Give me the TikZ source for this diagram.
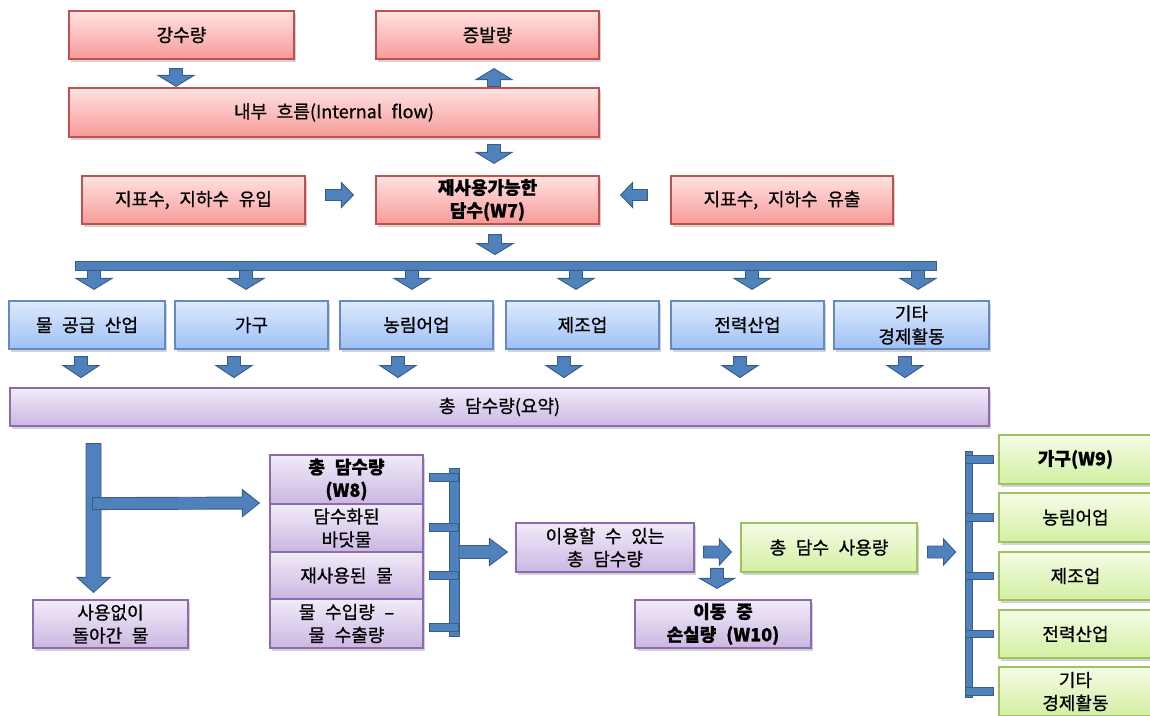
\documentclass[tikz,border=0pt]{standalone}
\usepackage{fontspec}
\setmainfont{Noto Sans CJK KR}[WordSpace=2.4, RawFeature={embolden=0.8}]
\usetikzlibrary{calc,shadows}
\definecolor{redtop}{RGB}{255,226,225}
\definecolor{redbot}{RGB}{247,155,153}
\definecolor{redline}{RGB}{192,80,77}
\definecolor{bluetop}{RGB}{222,234,252}
\definecolor{bluebot}{RGB}{158,192,246}
\definecolor{blueline}{RGB}{100,138,198}
\definecolor{purtop}{RGB}{241,235,249}
\definecolor{purbot}{RGB}{203,183,226}
\definecolor{purline}{RGB}{140,108,174}
\definecolor{grntop}{RGB}{245,252,230}
\definecolor{grnbot}{RGB}{211,239,162}
\definecolor{grnline}{RGB}{158,194,96}
\definecolor{arrowfill}{RGB}{79,129,189}
\definecolor{arrowline}{RGB}{56,93,138}
\tikzset{
  asw/.store in=\asw, ahw/.store in=\ahw, ahl/.store in=\ahl,
  asw=6.5pt, ahw=18pt, ahl=11pt,
  blockarrow/.style={fill=arrowfill, draw=arrowline, line width=0.9pt, line join=miter,
    to path={($(\tikztostart)!\asw!90:(\tikztotarget)$)
      -- ($(\tikztotarget)!\ahl!(\tikztostart)!\asw!90:(\tikztotarget)$)
      -- ($(\tikztotarget)!\ahl!(\tikztostart)!\ahw!90:(\tikztotarget)$)
      -- (\tikztotarget)
      -- ($(\tikztotarget)!\ahl!(\tikztostart)!\ahw!-90:(\tikztotarget)$)
      -- ($(\tikztotarget)!\ahl!(\tikztostart)!\asw!-90:(\tikztotarget)$)
      -- ($(\tikztostart)!\asw!-90:(\tikztotarget)$) -- cycle}},
  vsmall/.style={blockarrow, asw=6.5pt, ahw=18pt, ahl=11pt},
  hsmall/.style={blockarrow, asw=5.5pt, ahw=12.5pt, ahl=12pt},
  pipe/.style={draw=arrowline, line width=1pt, double=arrowfill, double distance=#1, line cap=rect},
  pipe/.default=7pt,
  box/.style={rectangle, draw, line width=1.2pt, inner sep=0pt, align=center,
    font=\fontsize{18}{23}\selectfont,
    drop shadow={shadow xshift=2pt, shadow yshift=-2.5pt, opacity=0.35}},
  redbox/.style={box, draw=redline, top color=redtop, bottom color=redbot},
  bluebox/.style={box, draw=blueline, top color=bluetop, bottom color=bluebot,
    minimum height=48pt},
  purbox/.style={box, draw=purline, top color=purtop, bottom color=purbot},
  grnbox/.style={box, draw=grnline, top color=grntop, bottom color=grnbot},
}
\begin{document}
\begin{tikzpicture}[x=1pt,y=-1pt]
\useasboundingbox (0,0) rectangle (1150,715);
% ---------- top red boxes
\node[redbox, minimum width=225pt, minimum height=48pt] (rain) at (181.5,35) {강수량};
\node[redbox, minimum width=223pt, minimum height=48pt] (evap) at (487.5,35) {증발량};
\node[redbox, minimum width=530pt, minimum height=49pt] (inner) at (334,112.5) {내부 흐름(Internal flow)};
\node[redbox, minimum width=223pt, minimum height=48pt] (inflow) at (193.5,200) {지표수, 지하수 유입};
\node[redbox, minimum width=223pt, minimum height=48pt] (w7) at (487.5,200) {\bfseries 재사용가능한\\\bfseries 담수(W7)};
\node[redbox, minimum width=222pt, minimum height=48pt] (outflow) at (782,200) {지표수, 지하수 유출};
% ---------- blue row
\node[bluebox, minimum width=156pt] (b1) at (87,325) {물 공급 산업};
\node[bluebox, minimum width=153pt] (b2) at (251.5,325) {가구};
\node[bluebox, minimum width=153pt] (b3) at (416.5,325) {농림어업};
\node[bluebox, minimum width=153pt] (b4) at (582.5,325) {제조업};
\node[bluebox, minimum width=153pt] (b5) at (747.5,325) {전력산업};
\node[bluebox, minimum width=155pt] (b6) at (911.5,325) {기타\\경제활동};
% ---------- summary
\node[purbox, minimum width=979pt, minimum height=38pt] (summary) at (499.5,407) {총 담수량(요약)};
% ---------- bottom left
\node[purbox, minimum width=155pt, minimum height=48pt] (ret) at (110.5,624) {사용없이\\돌아간 물};
\node[purbox, minimum width=153pt, minimum height=49pt] (s1) at (346.5,479.5) {\bfseries 총 담수량\\\bfseries (W8)};
\node[purbox, minimum width=153pt, minimum height=48pt] (s2) at (346.5,528) {담수화된\\바닷물};
\node[purbox, minimum width=153pt, minimum height=47pt] (s3) at (346.5,575.5) {재사용된 물};
\node[purbox, minimum width=153pt, minimum height=49pt] (s4) at (346.5,623.5) {물 수입량 –\\물 수출량};
\node[purbox, minimum width=178pt, minimum height=49pt] (avail) at (605,547.5) {이용할 수 있는\\총 담수량};
\node[grnbox, minimum width=176pt, minimum height=49pt] (use) at (829,547.5) {총 담수 사용량};
\node[purbox, minimum width=176pt, minimum height=48pt] (loss) at (723,624) {\bfseries 이동 중\\\bfseries 손실량 (W10)};
% ---------- green list
\node[grnbox, minimum width=153pt, minimum height=49pt] (g1) at (1075.5,459.5) {\bfseries 가구(W9)};
\node[grnbox, minimum width=153pt, minimum height=49pt] (g2) at (1075.5,517.5) {농림어업};
\node[grnbox, minimum width=153pt, minimum height=48pt] (g3) at (1075.5,576) {제조업};
\node[grnbox, minimum width=153pt, minimum height=48pt] (g4) at (1075.5,634) {전력산업};
\node[grnbox, minimum width=153pt, minimum height=49pt] (g5) at (1075.5,691.5) {기타\\경제활동};
% ---------- top arrows
\coordinate (a1s) at ($(rain.south)+(-5.5,9)$);
\coordinate (a1e) at ($(inner.north)+(-158,-1)$);
\coordinate (a2s) at ($(inner.north)+(160,-1)$);
\coordinate (a2e) at ($(evap.south)+(6.5,9)$);
\coordinate (a3s) at ($(inner.south)+(160,7)$);
\coordinate (a3e) at ($(w7.north)+(6.5,-12)$);
\coordinate (a4s) at ($(inflow.east)+(20,-5)$);
\coordinate (a4e) at ($(w7.west)+(-22,-5)$);
\coordinate (a5s) at ($(outflow.west)+(-23,-5)$);
\coordinate (a5e) at ($(w7.east)+(21,-5)$);
\coordinate (a6s) at ($(w7.south)+(7.5,10)$);
\coordinate (a6e) at ($(w7.south)+(7.5,30)$);
\draw[vsmall] (a1s) to (a1e);
\draw[vsmall] (a2s) to (a2e);
\draw[vsmall] (a3s) to (a3e);
\draw[hsmall] (a4s) to (a4e);
\draw[hsmall] (a5s) to (a5e);
\draw[vsmall] (a6s) to (a6e);
% ---------- distribution bar
\coordinate (barL) at (80,266);
\coordinate (barR) at (932,266);
\draw[pipe=8pt] (barL) -- (barR);
\foreach \b/\d in {b1/7, b2/-5.5, b3/-4.5, b4/-6.5, b5/4.5, b6/6.5}{
  \coordinate (\b-ts) at ($(\b.north)+(\d,-30)$);
  \coordinate (\b-te) at ($(\b.north)+(\d,-11)$);
  \draw[vsmall] (\b-ts) to (\b-te);
}
\foreach \b/\d in {b1/-6, b2/-17.5, b3/-18.5, b4/-18.5, b5/-7.5, b6/-6.5}{
  \coordinate (\b-bs) at ($(\b.south)+(\d,7)$);
  \coordinate (\b-be) at ($(\b.south)+(\d,28)$);
  \draw[vsmall, ahl=12pt] (\b-bs) to (\b-be);
}
% ---------- bottom-left split arrow
\coordinate (vS) at ($(summary.south)+(-406,17)$);
\coordinate (vE) at ($(ret.north)+(-17,-7)$);
\coordinate (hS) at ($(vS)+(-1,60)$);
\coordinate (hE) at ($(s1.west)+(-10,23.5)$);
\draw[blockarrow, asw=7.5pt, ahw=16.5pt, ahl=15pt] (vS) to (vE);
\draw[blockarrow, asw=6pt, ahw=13.5pt, ahl=17pt] (hS) to (hE);
% ---------- left bracket
\coordinate (lbT) at (454,473);
\coordinate (lbB) at (454,631);
\draw[pipe=9pt] (lbT) -- (lbB);
\foreach \y in {477,527,575,627}{
  \coordinate (lt\y) at (433,\y);
  \draw[pipe=7pt] (lt\y) -- (lt\y -| lbT);
}
\coordinate (brOut) at (459,552);
\coordinate (brIn) at ($(avail.west)+(-8,4.5)$);
\draw[blockarrow, asw=6.5pt, ahw=13.5pt, ahl=18pt] (brOut) to (brIn);
% ---------- middle arrows
\coordinate (m1s) at ($(avail.east)+(9,4.5)$);
\coordinate (m1e) at ($(use.west)+(-9,4.5)$);
\draw[hsmall, asw=6pt, ahw=13pt] (m1s) to (m1e);
\coordinate (m2s) at ($(loss.north)+(-6,-31)$);
\coordinate (m2e) at ($(loss.north)+(-6,-11)$);
\draw[vsmall, ahw=17.5pt, ahl=10pt] (m2s) to (m2e);
\coordinate (m3s) at ($(use.east)+(10,4.5)$);
\coordinate (m3e) at ($(use.east)+(38,4.5)$);
\draw[hsmall, asw=6pt, ahw=13pt] (m3s) to (m3e);
% ---------- right bracket
\coordinate (rbT) at (969,455);
\coordinate (rbB) at (969,694);
\draw[pipe=6.5pt] (rbT) -- (rbB);
\foreach \g in {g1,g2,g3,g4,g5}{
  \coordinate (\g-tk) at ($(\g.west)+(-9,0)$);
  \draw[pipe=6.5pt] (\g-tk -| rbT) -- (\g-tk);
}
\end{tikzpicture}
\end{document}
